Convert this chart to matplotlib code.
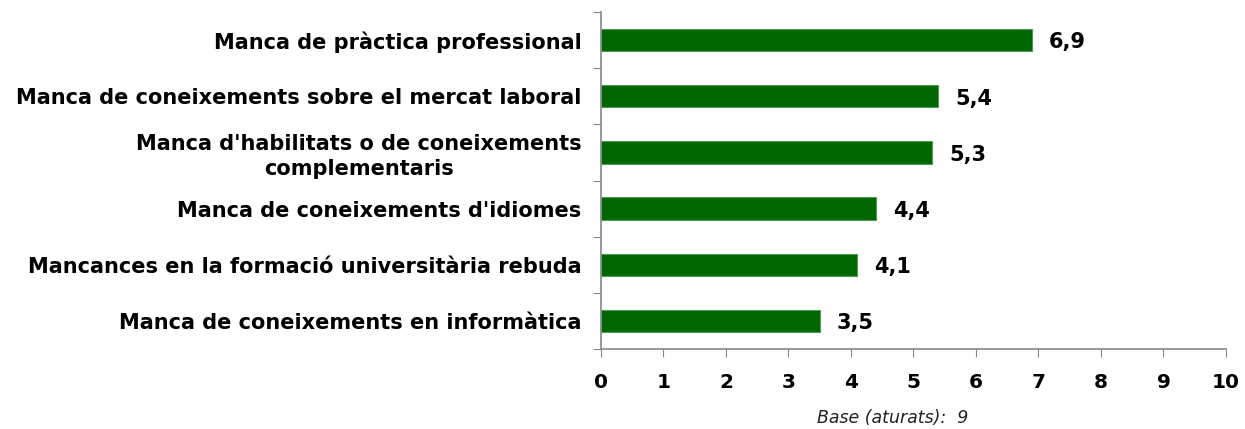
import matplotlib.pyplot as plt
import numpy as np

plt.rcParams['font.family'] = 'DejaVu Sans'

categories = ['Manca de pràctica professional',
              'Manca de coneixements sobre el mercat laboral',
              "Manca d'habilitats o de coneixements\ncomplementaris",
              "Manca de coneixements d'idiomes",
              'Mancances en la formació universitària rebuda',
              'Manca de coneixements en informàtica']
values = [6.9, 5.4, 5.3, 4.4, 4.1, 3.5]
xticks = list(range(0, 11))
base_note = 'Base (aturats):  9'

fig = plt.figure(figsize=(12.45, 4.29), dpi=100)
ax = fig.add_axes([0.4827, 0.1865, 0.502, 0.7855])

n = len(categories)
y = np.arange(n)[::-1]
bars = ax.barh(y, values, height=0.4, color='#006600', edgecolor='#4f9a4f', linewidth=0.8)

for yi, v in zip(y, values):
    ax.text(v + 0.27, yi - 0.04, f'{v:.1f}'.replace('.', ','), va='center', ha='left',
            fontsize=15, fontweight='bold', color='black')

ax.set_xlim(0, 10)
ax.set_ylim(-0.5, n - 0.5)
ax.set_xticks(xticks)
ax.set_xticklabels([str(t) for t in xticks], fontsize=14.5, fontweight='bold')

# ticks at category boundaries, labels centred on the bars
ax.set_yticks(np.arange(-0.5, n, 1.0))
ax.set_yticklabels([])
ax.set_yticks(y, minor=True)
ax.set_yticklabels(categories, minor=True, fontsize=15, fontweight='bold',
                   multialignment='center', linespacing=1.3)
ax.tick_params(axis='y', which='minor', length=0, pad=14)
ax.tick_params(axis='y', which='major', length=6, color='#888888')
ax.tick_params(axis='x', length=6, color='#888888', pad=11)

for s in ['top', 'right']:
    ax.spines[s].set_visible(False)
for s in ['left', 'bottom']:
    ax.spines[s].set_color('#888888')
    ax.spines[s].set_linewidth(1.2)

fig.text(0.717, 0.026, base_note, ha='center', va='center', fontsize=12.5,
         style='italic', color='#222222')

fig.savefig('out.png', dpi=100)
